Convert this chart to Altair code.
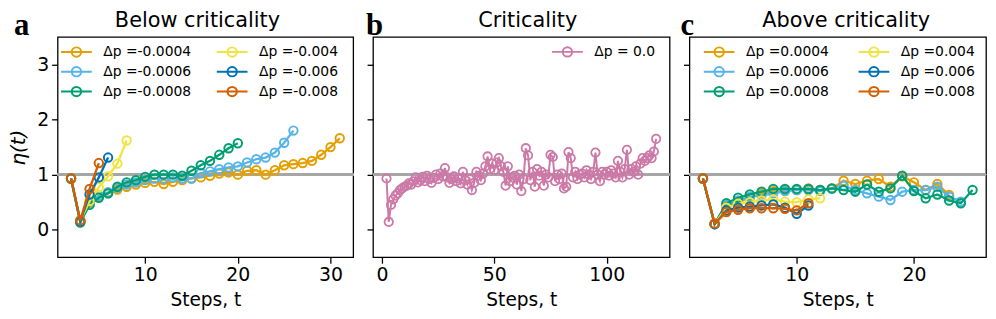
import altair as alt
import pandas as pd

# ---------------- data ----------------
FIRST_STEP = 2

labels_a = ["Δp =-0.0004", "Δp =-0.0006", "Δp =-0.0008", "Δp =-0.004", "Δp =-0.006", "Δp =-0.008"]
labels_c = ["Δp =0.0004", "Δp =0.0006", "Δp =0.0008", "Δp =0.004", "Δp =0.006", "Δp =0.008"]
labels_b = ["Δp = 0.0"]

colors6 = ["#E69F00", "#56B4E9", "#009E73", "#F0E442", "#0072B2", "#D55E00"]
colors_b = ["#CC79A7"]

# Panel a (below criticality), eta(t) from t = 2
eta_a_m0004 = [0.93, 0.15, 0.48, 0.60, 0.66, 0.73, 0.78, 0.82, 0.85, 0.87, 0.83, 0.87, 0.90, 0.93,
               0.95, 0.98, 1.02, 1.04, 1.00, 1.07, 1.08, 1.00, 1.08, 1.17, 1.19, 1.21, 1.25, 1.36,
               1.50, 1.66]
eta_a_m0006 = [0.93, 0.14, 0.50, 0.62, 0.68, 0.76, 0.82, 0.86, 0.90, 0.93, 0.93, 0.95, 0.93, 0.93,
               1.03, 1.06, 1.10, 1.13, 1.15, 1.22, 1.28, 1.31, 1.40, 1.58, 1.80]
eta_a_m0008 = [0.93, 0.13, 0.45, 0.58, 0.66, 0.78, 0.86, 0.90, 0.96, 1.00, 1.00, 1.00, 0.98, 1.07,
               1.17, 1.25, 1.36, 1.48, 1.57]
eta_a_m004 = [0.93, 0.16, 0.52, 0.77, 0.97, 1.20, 1.62]
eta_a_m006 = [0.93, 0.15, 0.64, 0.95, 1.31]
eta_a_m008 = [0.93, 0.17, 0.74, 1.21]

# Panel b (criticality)
eta_b_0 = [0.93, 0.14, 0.45, 0.55, 0.62, 0.66, 0.72, 0.75, 0.78, 0.80,
           0.84, 0.82, 0.88, 0.95, 0.86, 0.90, 0.96, 0.88, 0.98, 0.92,
           0.85, 0.94, 1.00, 0.92, 1.02, 0.97, 1.12, 0.95, 0.85, 0.92,
           0.97, 0.88, 0.93, 0.84, 1.05, 0.90, 0.82, 0.92, 0.72, 0.85,
           1.05, 0.98, 0.90, 1.02, 1.15, 1.33, 1.10, 1.20, 1.08, 1.22,
           1.30, 1.15, 1.05, 0.80, 1.15, 0.88, 0.95, 0.98, 0.82, 1.00,
           0.70, 0.92, 1.48, 1.35, 0.90, 1.05, 0.78, 1.10, 0.98, 1.05,
           0.80, 1.00, 0.95, 1.36, 1.32, 0.88, 1.00, 0.92, 1.02, 0.75,
           0.78, 1.41, 1.30, 0.95, 1.05, 0.92, 1.00, 1.02, 0.95, 1.08,
           1.00, 0.92, 1.05, 1.40, 1.00, 0.88, 1.05, 1.00, 1.05, 0.98,
           1.08, 1.02, 0.95, 1.25, 1.05, 0.95, 1.10, 1.45, 1.00, 1.10,
           1.05, 1.15, 1.00, 1.20, 1.30, 1.25, 1.30, 1.35, 1.30, 1.42,
           1.65]

# Panel c (above criticality)
eta_c_0004 = [0.93, 0.11, 0.42, 0.50, 0.58, 0.66, 0.70, 0.72, 0.72, 0.75, 0.72, 0.75, 0.89, 0.83,
              0.89, 0.92, 0.78, 0.97, 0.86, 0.72, 0.83, 0.63]
eta_c_0006 = [0.93, 0.11, 0.45, 0.53, 0.60, 0.62, 0.66, 0.70, 0.72, 0.72, 0.70, 0.74, 0.80, 0.72,
              0.66, 0.60, 0.54, 0.69, 0.72, 0.72, 0.78, 0.60, 0.51]
eta_c_0008 = [0.93, 0.10, 0.48, 0.58, 0.64, 0.69, 0.74, 0.74, 0.74, 0.74, 0.72, 0.75, 0.72, 0.69,
              0.82, 0.69, 0.75, 0.98, 0.70, 0.57, 0.64, 0.53, 0.48, 0.72]
eta_c_004 = [0.93, 0.11, 0.40, 0.47, 0.50, 0.53, 0.55, 0.51, 0.50, 0.55, 0.57]
eta_c_006 = [0.93, 0.10, 0.35, 0.40, 0.42, 0.44, 0.46, 0.40, 0.29, 0.44]
eta_c_008 = [0.93, 0.11, 0.32, 0.36, 0.39, 0.39, 0.39, 0.38, 0.35, 0.48]

Y_DOMAIN = [-0.5, 3.5]
Y_TICKS = [0, 1, 2, 3]

LEG_PATH = "M-3.1,0L3.1,0M-0.94,0A0.94,0.94,0,1,1,0.94,0A0.94,0.94,0,1,1,-0.94,0"


def build_df(labels, series):
    rows = []
    for lab, vals in zip(labels, series):
        for i, v in enumerate(vals):
            rows.append({"s": lab, "t": FIRST_STEP + i, "v": v})
    return pd.DataFrame(rows)


def panel(labels, series, colors, xdom, xticks, letter, letter_x, ttl, ttl_x,
          first, leg_x, leg_colpad, width, line_w, pt_size, pt_sw):
    df = build_df(labels, series)
    leg = alt.Legend(
        title=None, orient="none", legendX=leg_x, legendY=8,
        columns=2 if len(labels) > 1 else 1, columnPadding=leg_colpad, rowPadding=2,
        symbolType=LEG_PATH, symbolSize=100, symbolStrokeWidth=2,
        symbolFillColor="transparent", symbolOffset=10, labelOffset=20,
        labelFont="DejaVu Sans", labelFontSize=14, labelColor="black", padding=0,
    )
    color = alt.Color("s:N", scale=alt.Scale(domain=labels, range=colors), legend=leg)
    x = alt.X("t:Q", scale=alt.Scale(domain=xdom, nice=False, zero=False),
              axis=alt.Axis(values=xticks, title="Steps, t", format="d"))
    if first:
        yaxis = alt.Axis(values=Y_TICKS, title="η(t)", titleFontStyle="italic",
                         titleFontSize=20, format="d")
    else:
        yaxis = alt.Axis(values=Y_TICKS, labels=False, title=None)
    y = alt.Y("v:Q", scale=alt.Scale(domain=Y_DOMAIN, nice=False, zero=False), axis=yaxis)

    layers = [alt.Chart(df).mark_rule(color="#a6a6a6", strokeWidth=2.5).encode(y=alt.datum(1))]
    for lab in labels:
        base = alt.Chart(df).transform_filter(alt.FieldEqualPredicate(field="s", equal=lab))
        layers.append(base.mark_line(strokeWidth=line_w).encode(x=x, y=y, color=color))
        layers.append(base.mark_point(filled=False, size=pt_size, strokeWidth=pt_sw, opacity=1)
                      .encode(x=x, y=y, color=color))
    layers.append(
        alt.Chart(pd.DataFrame({"txt": [letter]}))
        .mark_text(font="Liberation Serif", fontWeight="bold", fontSize=31, align="left",
                   baseline="alphabetic", color="black")
        .encode(text="txt:N", x=alt.value(letter_x), y=alt.value(-2))
    )
    layers.append(
        alt.Chart(pd.DataFrame({"txt": [ttl]}))
        .mark_text(font="DejaVu Sans", fontSize=21, align="center",
                   baseline="alphabetic", color="black")
        .encode(text="txt:N", x=alt.value(ttl_x), y=alt.value(-10))
    )
    return alt.layer(*layers).properties(width=width, height=222)


pa = panel(labels_a, [eta_a_m0004, eta_a_m0006, eta_a_m0008, eta_a_m004, eta_a_m006, eta_a_m008],
           colors6, [0.55, 32.45], [10, 20, 30], "a", -44, "Below criticality", 141,
           True, 2, 21, 298, 2.3, 72, 2)
pb = panel(labels_b, [eta_b_0], colors_b, [-4, 128], [0, 50, 100], "b", -7, "Criticality", 156,
           False, 179, 20, 299, 2, 72, 1.8)
pc = panel(labels_c, [eta_c_0004, eta_c_0006, eta_c_0008, eta_c_004, eta_c_006, eta_c_008],
           colors6, [0.85, 26.15], [10, 20], "c", -9, "Above criticality", 158,
           False, 13, 25, 299, 2.3, 72, 2)

chart = (
    alt.hconcat(pa, pb, pc, spacing=20, bounds="flush")
    .resolve_scale(color="independent", x="independent")
    .configure(padding={"left": 0, "top": 0, "right": 0, "bottom": 0})
    .configure_view(stroke="black", strokeWidth=1.3)
    .configure_axis(domain=False, grid=False, tickColor="black", tickSize=6, tickWidth=1.3,
                    labelColor="black", labelFont="DejaVu Sans", labelFontSize=19,
                    titleFont="DejaVu Sans", titleFontWeight="normal", titleColor="black",
                    titleFontSize=18.7)
    .configure_axisX(labelPadding=2, titlePadding=7)
    .configure_axisY(labelPadding=3, titlePadding=8)
)

chart.save("out.html", embed_options={"renderer": "svg", "actions": False})
